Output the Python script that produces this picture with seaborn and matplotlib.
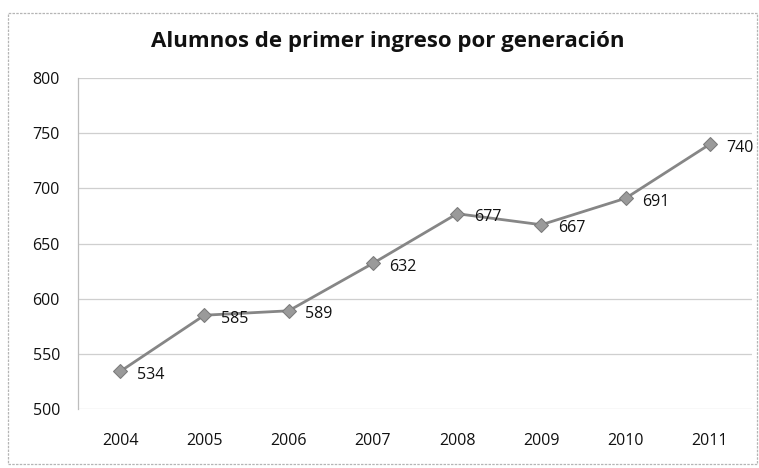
import matplotlib
matplotlib.use("Agg")
import matplotlib.pyplot as plt
import seaborn as sns
import pandas as pd
from matplotlib.patches import Rectangle

years = ["2004", "2005", "2006", "2007", "2008", "2009", "2010", "2011"]
alumnos = [534, 585, 589, 632, 677, 667, 691, 740]
yticks = [500, 550, 600, 650, 700, 750, 800]
title = "Alumnos de primer ingreso por generación"

sns.set_theme(style="white")
plt.rcParams["font.family"] = ["Open Sans", "DejaVu Sans"]

df = pd.DataFrame({"year": years, "alumnos": alumnos})

fig = plt.figure(figsize=(7.59, 4.68), dpi=100)
ax = fig.add_axes([78 / 759, 1 - 409 / 468, (752 - 78) / 759, (409 - 78) / 468])

sns.lineplot(data=df, x="year", y="alumnos", ax=ax, color="#868686", linewidth=2.0,
             marker="D", markersize=7, markerfacecolor="#9a9a9a",
             markeredgecolor="#7a7a7a", sort=False)

for i, v in enumerate(alumnos):
    ax.annotate(str(v), (i, v), xytext=(12, -2.5), textcoords="offset points",
                ha="left", va="center", fontsize=11.5, color="#111111")

ax.set_xlim(-0.5, len(years) - 0.5)
ax.set_ylim(500, 800)
ax.set_yticks(yticks)
ax.set_yticklabels([str(t) for t in yticks])
ax.set_xlabel("")
ax.set_ylabel("")
ax.tick_params(axis="both", length=0, labelsize=11.5, colors="#111111")
ax.tick_params(axis="x", pad=17)
ax.tick_params(axis="y", pad=13)
ax.grid(axis="y", color="#cfcfcf", linewidth=0.9)
ax.grid(axis="x", visible=False)
for side in ["top", "right", "bottom"]:
    ax.spines[side].set_visible(False)
ax.spines["left"].set_color("#bdbdbd")
ax.spines["left"].set_linewidth(0.9)

fig.text(388 / 759, 1 - 42 / 468, title, ha="center", va="center",
         fontsize=16, fontweight="bold", color="#111111")

fig.patches.append(Rectangle((8 / 759, 1 - 464 / 468), (757 - 8) / 759, (464 - 13) / 468,
                             transform=fig.transFigure, fill=False,
                             edgecolor="#b5b5b5", linewidth=0.9, linestyle=(0, (2, 1))))

fig.savefig("out.png", dpi=100, facecolor="white")
